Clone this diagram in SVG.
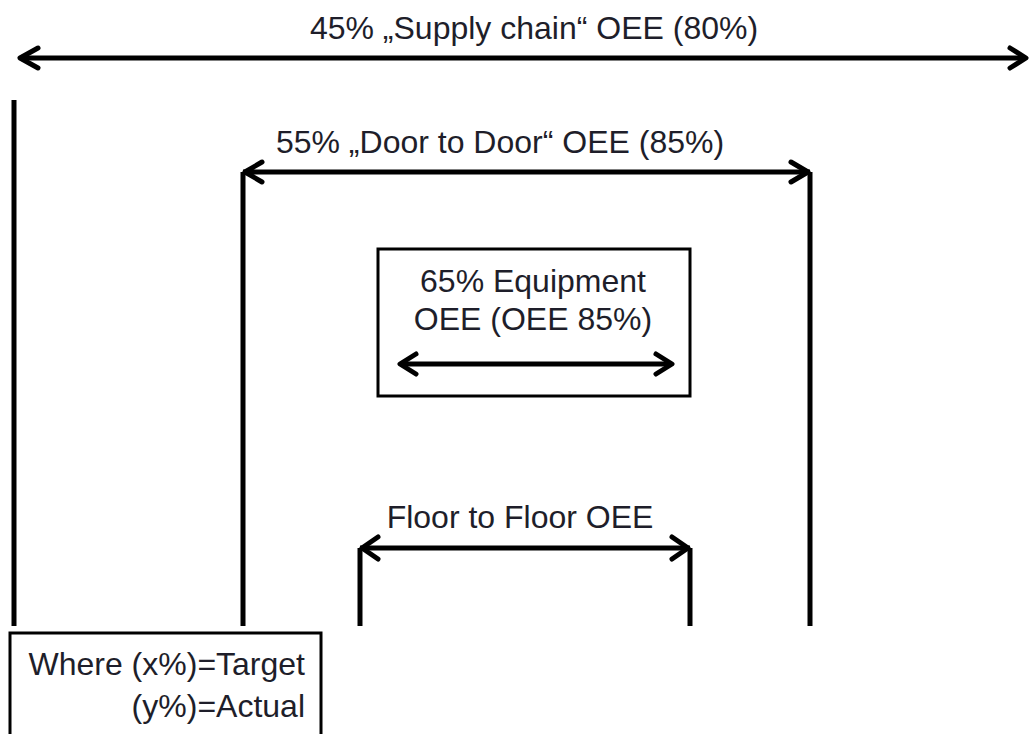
<svg xmlns="http://www.w3.org/2000/svg" width="1030" height="734" viewBox="0 0 1030 734">
  <style>
    .lbl { font-family: "Liberation Sans", Arial, sans-serif; font-size: 32px; fill: #1e1e2a; }
    .ln { stroke: #000; stroke-width: 5; fill: none; }
    .head { stroke: #000; stroke-width: 5; fill: none; stroke-linecap: round; stroke-linejoin: round; }
    .box { stroke: #000; stroke-width: 3; fill: #fff; }
  </style>
  <rect width="1030" height="734" fill="#fff"/>

  <g id="connectors">
    <!-- supply chain span -->
    <line class="ln" x1="20" y1="58" x2="1026" y2="58"/>
    <polyline class="head" points="38,48 20,58 38,68"/>
    <polyline class="head" points="1010,48 1026,58 1010,68"/>
    <line class="ln" x1="14" y1="100" x2="14" y2="626"/>

    <!-- door to door span -->
    <line class="ln" x1="243" y1="172" x2="810" y2="172"/>
    <polyline class="head" points="262,162 245,172 262,182"/>
    <polyline class="head" points="791,162 808,172 791,182"/>
    <line class="ln" x1="243" y1="172" x2="243" y2="626"/>
    <line class="ln" x1="810" y1="172" x2="810" y2="626"/>

    <!-- floor to floor span -->
    <line class="ln" x1="360" y1="548" x2="690" y2="548"/>
    <polyline class="head" points="378,537 362,548 378,559"/>
    <polyline class="head" points="672,537 688,548 672,559"/>
    <line class="ln" x1="360" y1="548" x2="360" y2="626"/>
    <line class="ln" x1="690" y1="548" x2="690" y2="626"/>
  </g>

  <g id="supply-chain">
    <text class="lbl" x="534" y="39" text-anchor="middle">45% „Supply chain“ OEE (80%)</text>
  </g>

  <g id="door-to-door">
    <text class="lbl" x="500" y="153" text-anchor="middle">55% „Door to Door“ OEE (85%)</text>
  </g>

  <g id="equipment">
    <rect class="box" x="378" y="249" width="312" height="147"/>
    <text class="lbl" x="533" y="292" text-anchor="middle">65% Equipment</text>
    <text class="lbl" x="533" y="330" text-anchor="middle">OEE (OEE 85%)</text>
    <line class="ln" x1="400" y1="364" x2="672" y2="364"/>
    <polyline class="head" points="416,354 400,364 416,374"/>
    <polyline class="head" points="656,354 672,364 656,374"/>
  </g>

  <g id="floor-to-floor">
    <text class="lbl" x="520" y="528" text-anchor="middle">Floor to Floor OEE</text>
  </g>

  <g id="legend">
    <rect class="box" x="10" y="633" width="311" height="110"/>
    <text class="lbl" x="305" y="675" text-anchor="end">Where (x%)=Target</text>
    <text class="lbl" x="305" y="717" text-anchor="end">(y%)=Actual</text>
  </g>
</svg>
